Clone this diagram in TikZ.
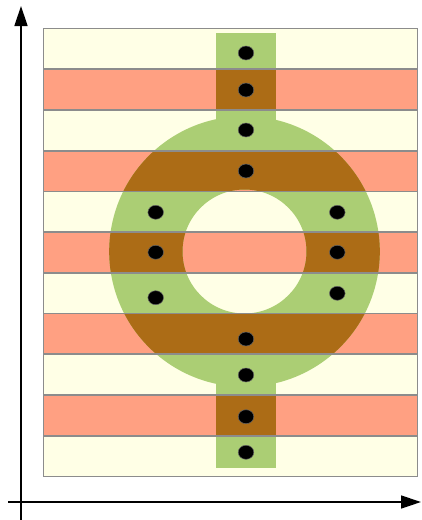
\documentclass[tikz,border=0pt]{standalone}
\usepackage{xcolor}
\usepackage{tikz}
\usetikzlibrary{arrows.meta, shapes.geometric}
\definecolor{stripeyellow}{RGB}{255,255,230}
\definecolor{stripesalmon}{RGB}{255,160,130}
\definecolor{ringgreen}{RGB}{171,206,116}
\definecolor{ringbrown}{RGB}{172,108,22}
\definecolor{stripegray}{RGB}{140,140,140}

\begin{document}
\begin{tikzpicture}[
    x=0.5mm, y=-0.5mm,
    stripeline/.style={draw=stripegray, line width=0.9mm},
    dot/.style={ellipse, fill=black, draw=black!60, line width=0.25mm, inner sep=0pt, minimum width=7.8mm, minimum height=7mm},
    axis/.style={line width=0.7mm, -{Triangle[length=10mm, width=6.5mm]}}
]
\useasboundingbox (0,0) rectangle (422,520);

% Stripes
\foreach \i in {0,2,...,10}
  \fill[stripeyellow] (43.5,28.5+40.727*\i) rectangle (417.5,28.5+40.727*\i+40.727);
\foreach \i in {1,3,...,9}
  \fill[stripesalmon] (43.5,28.5+40.727*\i) rectangle (417.5,28.5+40.727*\i+40.727);

% Ring with bars
\coordinate (hub) at (244.5,251.5);
\fill[ringgreen, even odd rule] (hub) circle [radius=135.3] (hub) circle [radius=62];
\fill[ringgreen] (215.5,32.7) rectangle (275.5,150);
\fill[ringgreen] (215.5,350) rectangle (275.5,468.3);

% Overlap with salmon stripes
\begin{scope}
  \clip (43.5,69.2) rectangle (417.5,109.9)
        (43.5,150.6) rectangle (417.5,191.3)
        (43.5,232) rectangle (417.5,272.7)
        (43.5,313.4) rectangle (417.5,354.1)
        (43.5,394.8) rectangle (417.5,435.5);
  \fill[ringbrown, even odd rule] (hub) circle [radius=135.3] (hub) circle [radius=62];
  \fill[ringbrown] (215.5,32.7) rectangle (275.5,150);
  \fill[ringbrown] (215.5,350) rectangle (275.5,468.3);
\end{scope}

% Stripe borders
\foreach \i in {0,...,10}
  \draw[stripeline] (43.5,28.5+40.727*\i) rectangle (417.5,28.5+40.727*\i+40.727);

% Dots
\foreach \x/\y [count=\k] in {246/53, 246/90, 246/130, 246/171,
    155.7/212.3, 155.7/252.3, 155.7/297.7,
    337.3/212.3, 337.3/252.3, 337.3/293.3,
    246/339, 246/375, 246/416.7, 246/452.3}
  \node[dot] (dot\k) at (\x,\y) {};

% Axes
\coordinate (yfoot) at (21,520);
\coordinate (ytip) at (21,6);
\coordinate (xfoot) at (8,502);
\coordinate (xtip) at (421,502);
\draw[axis] (yfoot) -- (ytip);
\draw[axis] (xfoot) -- (xtip);

\end{tikzpicture}
\end{document}
